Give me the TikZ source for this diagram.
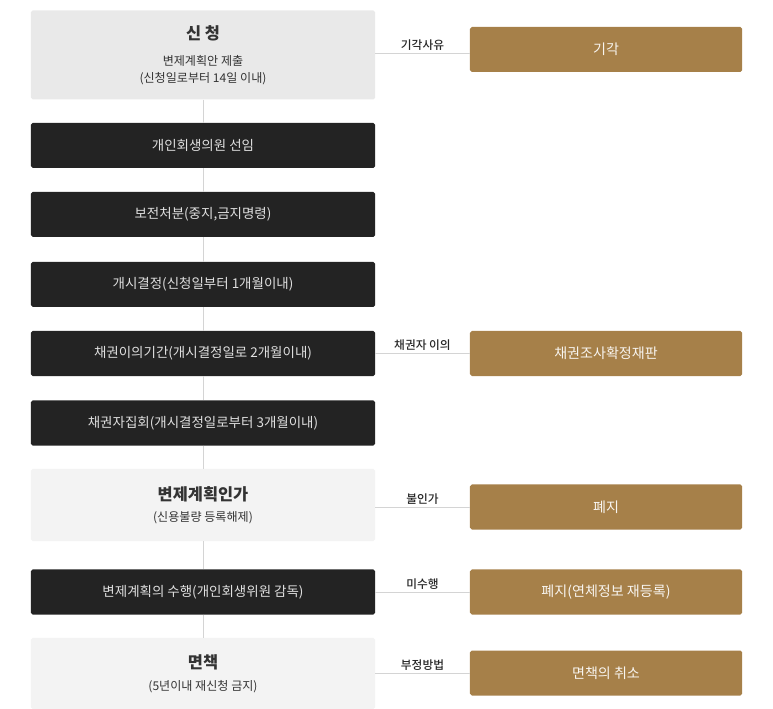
\documentclass[tikz,border=0pt]{standalone}
\usepackage{fontspec}
\setmainfont{Noto Sans CJK KR}
\newfontfamily\midfont{Noto Sans CJK KR}[UprightFont=* Medium]
\usetikzlibrary{calc}
\definecolor{stepdark}{HTML}{232323}
\definecolor{stepgold}{HTML}{A68049}
\definecolor{steplight}{HTML}{E9E9E9}
\definecolor{steppale}{HTML}{F3F3F3}
\definecolor{flowgray}{HTML}{D4D4D4}
\newcommand*{\colL}{203}
\newcommand*{\colR}{606}
\newcommand*{\wL}{10.32cm}
\newcommand*{\wR}{8.16cm}

\tikzset{
	stepbox/.style={rectangle,rounded corners=1.5pt,inner sep=0pt,align=center,minimum width=\wL,minimum height=1.35cm,font=\fontsize{11.5}{15}\selectfont},
	darkbox/.style={stepbox,fill=stepdark,text=white!88!black},
	lightbox/.style={stepbox,fill=steplight,text=black!80,font=\fontsize{10.3}{14.5}\selectfont},
	palebox/.style={stepbox,fill=steppale,text=black!80,font=\fontsize{10.3}{14.5}\selectfont},
	goldbox/.style={stepbox,fill=stepgold,minimum width=\wR,text=white!92!stepgold,font=\fontsize{12}{15}\selectfont},
	flowline/.style={draw=flowgray,line width=0.7pt},
	reason/.style={above,inner sep=2pt,text=black!85,font=\midfont\fontsize{10}{12}\selectfont},
}

\begin{document}
\begin{tikzpicture}[x=0.03cm,y=-0.03cm]
	\useasboundingbox (0,0) rectangle (773,709);

	% main steps
	\node[lightbox,minimum height=2.67cm] (apply) at (\colL,55) {{\fontsize{14}{17}\selectfont\bfseries 신~청}\\[8pt] 변제계획안 제출\\(신청일로부터 14일 이내)};
	\node[darkbox] (trustee) at (\colL,145.5) {개인회생의원 선임};
	\node[darkbox] (preserve) at (\colL,214.5) {보전처분(중지,금지명령)};
	\node[darkbox] (commence) at (\colL,284.5) {개시결정(신청일부터 1개월이내)};
	\node[darkbox] (objection) at (\colL,353.5) {채권이의기간(개시결정일로 2개월이내)};
	\node[darkbox] (meeting) at (\colL,423) {채권자집회(개시결정일로부터 3개월이내)};
	\node[palebox,minimum height=2.16cm] (approve) at (\colL,505) {{\fontsize{14}{17}\selectfont\bfseries 변제계획인가}\\[3pt] (신용불량 등록해제)};
	\node[darkbox] (perform) at (\colL,592) {변제계획의 수행(개인회생위원 감독)};
	\node[palebox,minimum height=2.13cm] (discharge) at (\colL,673.5) {{\fontsize{14}{17}\selectfont\bfseries 면책}\\[4pt] (5년이내 재신청 금지)};

	% side results
	\node[goldbox] (dismiss) at (\colR,49.5) {기각};
	\node[goldbox] (trial) at (\colR,353.5) {채권조사확정재판};
	\node[goldbox] (abolish) at (\colR,507) {폐지};
	\node[goldbox] (reabolish) at (\colR,592) {폐지(연체정보 재등록)};
	\node[goldbox] (revoke) at (\colR,673) {면책의 취소};

	\foreach \a/\b in {apply/trustee,trustee/preserve,preserve/commence,commence/objection,objection/meeting,meeting/approve,approve/perform,perform/discharge} {
		\draw[flowline] (\a) -- (\b);
	}

	\draw[flowline] (apply.east) ++(0,-2) -- (dismiss.west |- 0,53) node[reason,midway] {기각사유};
	\draw[flowline] (objection.east) -- (objection.east -| trial.west) node[reason,midway] {채권자 이의};
	\draw[flowline] (approve.east) ++(0,2) -- (abolish.west) node[reason,midway] {불인가};
	\draw[flowline] (perform.east) -- (reabolish.west) node[reason,midway] {미수행};
	\draw[flowline] (discharge.east) -- (discharge.east -| revoke.west) node[reason,midway] {부정방법};
\end{tikzpicture}
\end{document}
